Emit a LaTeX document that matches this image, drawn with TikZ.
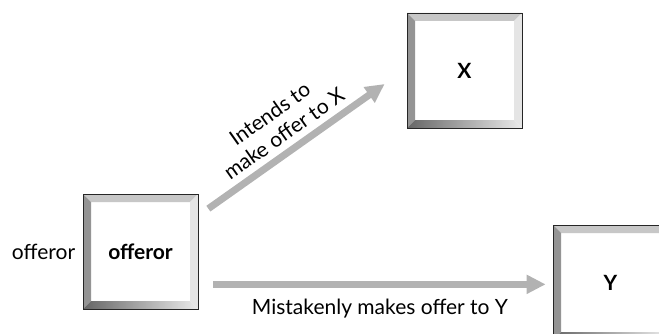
\documentclass[tikz,border=0pt]{standalone}
\usepackage{fontspec}
\setmainfont{Lato}
\usetikzlibrary{arrows.meta,positioning}

\colorlet{bevtop}{black!22}
\colorlet{bevleft}{black!42}
\colorlet{bevright}{black!10}
\newcommand{\bevel}{%
  \coordinate (bsw) at (path picture bounding box.south west);
  \coordinate (bse) at (path picture bounding box.south east);
  \coordinate (bnw) at (path picture bounding box.north west);
  \coordinate (bne) at (path picture bounding box.north east);
  \fill[bevtop] (bnw) -- (bne) -- ([shift={(-8bp,-8bp)}]bne) -- ([shift={(8bp,-8bp)}]bnw) -- cycle;
  \fill[bevleft] (bnw) -- (bsw) -- ([shift={(8bp,8bp)}]bsw) -- ([shift={(8bp,-8bp)}]bnw) -- cycle;
  \fill[bevright] (bne) -- (bse) -- ([shift={(-8bp,8bp)}]bse) -- ([shift={(-8bp,-8bp)}]bne) -- cycle;
  \shade[left color=black!60, right color=black!8] (bsw) -- (bse) -- ([shift={(-8bp,8bp)}]bse) -- ([shift={(8bp,8bp)}]bsw) -- cycle;}

\begin{document}
\begin{tikzpicture}[x=1bp, y=1bp,
      >={Triangle[length=19bp,width=18bp]},
      every node/.append style={align=center, font=\fontsize{21bp}{24.5bp}\selectfont},
      box/.style={draw=black!85, line width=0.7bp, fill=white, minimum size=115bp,
        inner sep=0pt, font=\fontsize{21bp}{24bp}\selectfont\bfseries, path picture={\bevel}},
      link/.style={->, draw=black!30, line width=7bp}]

  \useasboundingbox (0,0) rectangle (659,333);
  \clip (0,0) rectangle (659,333);

  \node [box] (O) at (140.5,81.5)  {offeror};
  \node [box] (X) at (464.5,262.5) {X};
  \node [box] (Y) at (610.5,50.5)  {Y};
  \node [left=4bp of O] (Olbl)     {offeror};

  \coordinate (a1) at ([xshift=10bp,yshift=-15bp]O.north east);
  \coordinate (b1) at ([xshift=-22bp,yshift=-13.5bp]X.west);
  \coordinate (a2) at ([xshift=15bp,yshift=25bp]O.south east);
  \coordinate (b2) at (a2 -| Y.west);

  \draw[link] (a1) -- node[sloped, above=3bp, xshift=-3bp] {Intends to\\make offer to X} (b1);
  \draw[link, shorten >=7bp] (a2) -- node[below=8bp, xshift=-3bp] {Mistakenly makes offer to Y} (b2);
\end{tikzpicture}
\end{document}
